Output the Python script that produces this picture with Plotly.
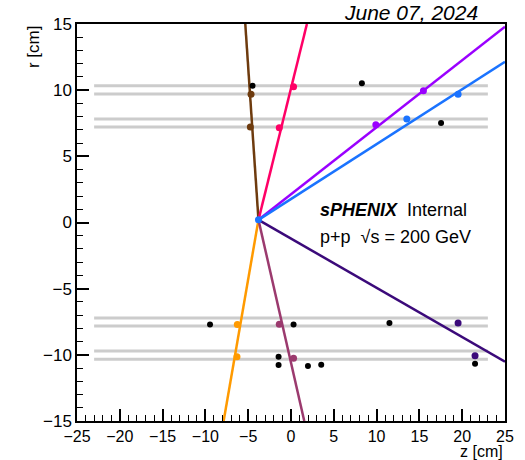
import plotly.graph_objects as go

# Vertex
vertex_z = -3.8
vertex_r = 0.2

# Detector layer radii (cm) and z extent
layer_r = [10.34, 9.71, 7.82, 7.22, -7.22, -7.82, -9.71, -10.34]
layer_z = [-23.0, 23.0]

# Tracks: end point (z, r) and colour-associated hits
track_names = ["t1", "t2", "t3", "t4", "t5", "t6", "t7"]
track_colors = ["#6e3b0e", "#ff0066", "#9a00ff", "#1a73ff", "#3b0a7a", "#ff9a00", "#9b3a6e"]
track_end_z = [-5.34, 1.86, 25.0, 25.0, 25.0, -7.87, 1.55]
track_end_r = [15.0, 15.0, 14.8, 12.15, -10.52, -15.0, -15.0]
hit_z = [[-4.67, -4.75], [0.30, -1.37], [15.47, 9.91], [19.52, 13.53],
         [19.52, 21.5], [-6.27, -6.31], [-1.37, 0.30]]
hit_r = [[9.69, 7.22], [10.26, 7.16], [9.96, 7.39], [9.69, 7.82],
         [-7.6, -10.07], [-7.70, -10.15], [-7.68, -10.25]]

# Unassociated hits
free_z = [-4.49, 8.28, 17.53, -9.46, 0.30, 11.5, -1.45, -1.45, 1.98, 3.53, 21.5]
free_r = [10.34, 10.52, 7.52, -7.70, -7.70, -7.6, -10.15, -10.77, -10.85, -10.75, -10.68]

fig = go.Figure()

for r in layer_r:
    fig.add_trace(go.Scatter(x=layer_z, y=[r, r], mode="lines",
                             line=dict(color="#cccccc", width=3),
                             showlegend=False, hoverinfo="skip"))

for i, name in enumerate(track_names):
    fig.add_trace(go.Scatter(x=[vertex_z, track_end_z[i]], y=[vertex_r, track_end_r[i]],
                             mode="lines", line=dict(color=track_colors[i], width=2.5),
                             showlegend=False))

for i, name in enumerate(track_names):
    fig.add_trace(go.Scatter(x=hit_z[i], y=hit_r[i], mode="markers",
                             marker=dict(color=track_colors[i], size=7),
                             showlegend=False))

fig.add_trace(go.Scatter(x=free_z, y=free_r, mode="markers",
                         marker=dict(color="black", size=6), showlegend=False))

fig.add_trace(go.Scatter(x=[vertex_z], y=[vertex_r], mode="markers",
                         marker=dict(color="#1a73ff", size=7), showlegend=False))

font = "Liberation Sans, Arial, Helvetica, sans-serif"
axis_common = dict(
    showgrid=False, zeroline=False, showline=True, linecolor="black", linewidth=1.5,
    mirror=True, ticks="inside", ticklen=12, tickwidth=1.5, tickcolor="black",
    dtick=5, tick0=0,
    minor=dict(ticks="inside", ticklen=6, dtick=1, tickwidth=1.2, tickcolor="black"),
)

fig.update_layout(
    width=525, height=460,
    margin=dict(l=76.5, r=20, t=24, b=39),
    paper_bgcolor="white", plot_bgcolor="white",
    xaxis=dict(range=[-25, 25], tickfont=dict(family=font, size=16, color="black"),
               **axis_common),
    yaxis=dict(range=[-15, 15], tickfont=dict(family=font, size=17, color="black"),
               **axis_common),
    annotations=[
        dict(text="<i>June 07, 2024</i>", x=0.942, y=1.03, xref="paper", yref="paper",
             xanchor="right", yanchor="middle", showarrow=False,
             font=dict(family=font, size=21, color="black")),
        dict(text="<b><i>sPHENIX</i></b>  Internal", x=0.563, y=0.531, xref="paper", yref="paper",
             xanchor="left", yanchor="middle", showarrow=False,
             font=dict(family=font, size=18, color="black")),
        dict(text="p+p  √s = 200 GeV", x=0.563, y=0.463, xref="paper", yref="paper",
             xanchor="left", yanchor="middle", showarrow=False,
             font=dict(family=font, size=18, color="black")),
        dict(text="z [cm]", x=1.0, y=-0.076, xref="paper", yref="paper",
             xanchor="right", yanchor="middle", showarrow=False,
             font=dict(family=font, size=16, color="black")),
        dict(text="r [cm]", x=-0.1015, y=1.0025, xref="paper", yref="paper",
             xanchor="center", yanchor="top", textangle=-90, showarrow=False,
             font=dict(family=font, size=17, color="black")),
    ],
)

fig.write_html("out.html")
